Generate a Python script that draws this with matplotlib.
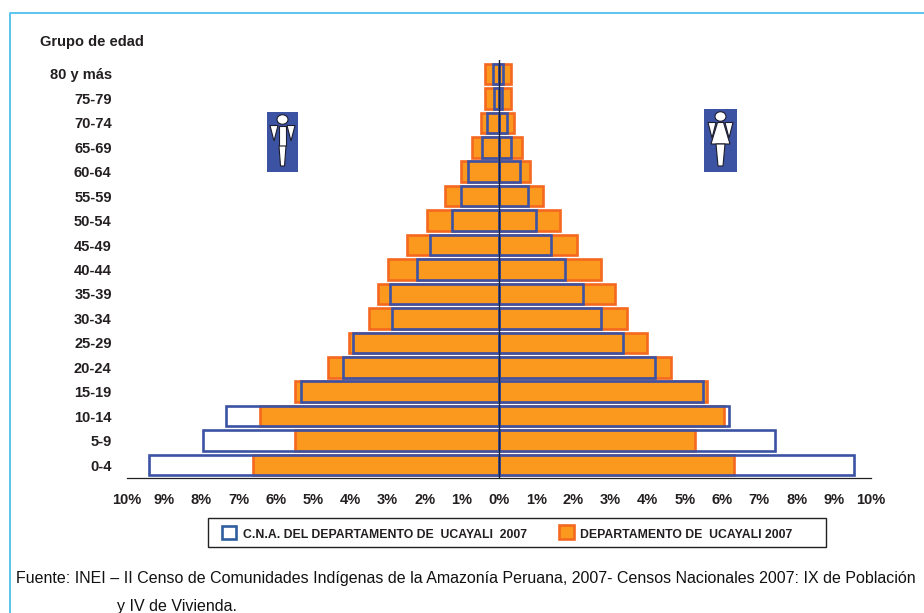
import matplotlib
matplotlib.use("Agg")
import matplotlib.pyplot as plt
from matplotlib.patches import Rectangle, Polygon, Ellipse

W, H = 924, 613

# ----- DATA -----
grupos = ["0-4", "5-9", "10-14", "15-19", "20-24", "25-29", "30-34", "35-39",
          "40-44", "45-49", "50-54", "55-59", "60-64", "65-69", "70-74", "75-79", "80 y más"]

# porcentajes, hombres a la izquierda y mujeres a la derecha
depto_h = [6.61, 5.48, 6.42, 5.48, 4.60, 4.03, 3.49, 3.25, 2.98, 2.47, 1.94, 1.45, 1.02, 0.73, 0.48, 0.38, 0.38]
depto_m = [6.32, 5.28, 6.06, 5.58, 4.63, 3.99, 3.45, 3.13, 2.73, 2.11, 1.63, 1.17, 0.82, 0.63, 0.41, 0.33, 0.33]
cna_h = [9.41, 7.96, 7.34, 5.32, 4.19, 3.92, 2.88, 2.93, 2.20, 1.85, 1.26, 1.02, 0.83, 0.46, 0.32, 0.13, 0.16]
cna_m = [9.53, 7.43, 6.19, 5.49, 4.20, 3.34, 2.75, 2.27, 1.78, 1.41, 1.00, 0.79, 0.57, 0.33, 0.22, 0.09, 0.12]

xticks = list(range(-10, 11))
xlabels = [f"{abs(t)}%" for t in xticks]

NARANJA = "#fb991f"
NARANJA_BORDE = "#f4691f"
AZUL = "#3c53a4"
CELESTE = "#5bc5ee"
TEXTO = "#231f20"

plt.rcParams["font.family"] = ["Liberation Sans", "DejaVu Sans"]
plt.rcParams["font.weight"] = "bold"

fig = plt.figure(figsize=(W / 100, H / 100), dpi=100)

# capa en pixeles para marco, iconos y leyenda
bg = fig.add_axes([0, 0, 1, 1])
bg.set_xlim(0, W)
bg.set_ylim(H, 0)
bg.axis("off")
bg.plot([9.5, 9.5, W], [H, 13, 13], color=CELESTE, lw=1.4)

ax = fig.add_axes([127 / W, 1 - 477.5 / H, 744 / W, 417.5 / H])
ax.patch.set_alpha(0)
ys = list(range(len(grupos)))
alto = 0.84
lw = 1.9

ax.barh(ys, [-v for v in depto_h], height=alto, color=NARANJA, edgecolor=NARANJA_BORDE, linewidth=lw)
ax.barh(ys, depto_m, height=alto, color=NARANJA, edgecolor=NARANJA_BORDE, linewidth=lw)
ax.barh(ys, [-v for v in cna_h], height=alto, fill=False, edgecolor=AZUL, linewidth=lw)
ax.barh(ys, cna_m, height=alto, fill=False, edgecolor=AZUL, linewidth=lw)

ax.set_xlim(-10, 10)
ax.set_ylim(-0.51, 16.57)
for s in ["top", "right", "left"]:
    ax.spines[s].set_visible(False)
ax.spines["bottom"].set_color("#222222")
ax.spines["bottom"].set_linewidth(0.9)
ax.axvline(0, color="#1a2340", lw=1.0, zorder=5)
ax.set_xticks(xticks)
ax.set_xticklabels(xlabels, fontsize=10.5, color=TEXTO)
ax.set_yticks(ys)
ax.set_yticklabels(grupos, fontsize=10.5, color=TEXTO)
ax.tick_params(length=0)
ax.tick_params(axis="x", pad=11)
ax.tick_params(axis="y", pad=11)

bg.text(40, 42, "Grupo de edad", fontsize=10.5, color=TEXTO, va="center")


def icono(x0, y0, w, h, mujer):
    cx = x0 + w / 2
    bg.add_patch(Rectangle((x0, y0), w, h, color=AZUL, lw=0))
    st = dict(fc="white", ec="#1c1c2c", lw=0.8)
    bg.add_patch(Ellipse((cx, y0 + 7.5), 11, 9.5, **st))
    # brazos
    bg.add_patch(Polygon([(cx - 12.5, y0 + 13.5), (cx - 4.5, y0 + 13.5), (cx - 8.5, y0 + 29)], **st))
    bg.add_patch(Polygon([(cx + 12.5, y0 + 13.5), (cx + 4.5, y0 + 13.5), (cx + 8.5, y0 + 29)], **st))
    if mujer:
        bg.add_patch(Polygon([(cx - 3, y0 + 13.5), (cx + 3, y0 + 13.5), (cx + 9.5, y0 + 35), (cx - 9.5, y0 + 35)], **st))
        bg.add_patch(Polygon([(cx - 4.5, y0 + 35), (cx + 4.5, y0 + 35), (cx + 2.5, y0 + 57), (cx - 2.5, y0 + 57)], **st))
    else:
        bg.add_patch(Rectangle((cx - 3.5, y0 + 13.5), 7, 20.5, **st))
        bg.add_patch(Polygon([(cx - 3.5, y0 + 34), (cx + 3.5, y0 + 34), (cx + 2, y0 + 54), (cx - 2, y0 + 54)], **st))


icono(267, 112, 31, 60, False)
icono(704, 109, 33, 63, True)

# leyenda
bg.add_patch(Rectangle((208, 518), 617.5, 28.5, fc="white", ec="#222222", lw=1.0))
bg.add_patch(Rectangle((222.3, 526.3), 13.5, 12.5, fc="white", ec="#2f5f9e", lw=1.9))
bg.text(243, 534.5, "C.N.A. DEL DEPARTAMENTO DE  UCAYALI  2007", fontsize=8.85, color=TEXTO, va="center")
bg.add_patch(Rectangle((559.3, 525.3), 14.5, 13.5, fc=NARANJA, ec=NARANJA_BORDE, lw=1.9))
bg.text(580, 534.5, "DEPARTAMENTO DE  UCAYALI 2007", fontsize=8.85, color=TEXTO, va="center")

bg.text(16, 578, "Fuente: INEI – II Censo de Comunidades Indígenas de la Amazonía Peruana, 2007- Censos Nacionales 2007: IX de Población",
        fontsize=11.55, fontweight="normal", color="#111111", va="center")
bg.text(117, 606, "y IV de Vivienda.", fontsize=11.55, fontweight="normal", color="#111111", va="center")

fig.savefig("out.png", dpi=100)
